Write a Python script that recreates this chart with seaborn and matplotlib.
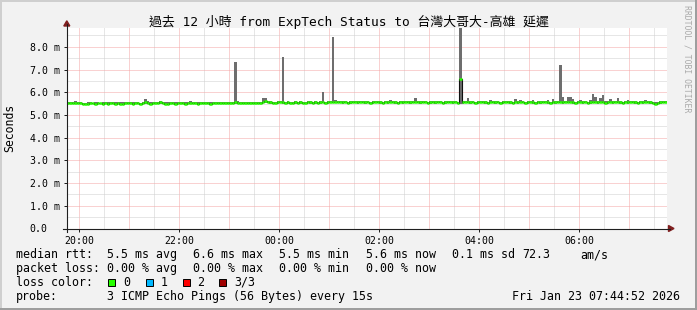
import matplotlib
matplotlib.use("Agg")
import matplotlib.pyplot as plt
import matplotlib.dates as mdates
from matplotlib.patches import Rectangle, Polygon
from matplotlib.lines import Line2D
import pandas as pd
import seaborn as sns

# ---------------- data (3-minute steps, ms) ----------------
med = [
    5.52, 5.53, 5.51, 5.52, 5.54, 5.52, 5.50, 5.48, 5.50, 5.52, 5.51, 5.49, 5.52, 5.51, 5.48, 5.52, 5.50, 5.51, 5.53, 5.50,
    5.51, 5.49, 5.48, 5.52, 5.53, 5.51, 5.50, 5.52, 5.51, 5.50, 5.52, 5.55, 5.53, 5.50, 5.51, 5.52, 5.54, 5.55, 5.52, 5.49,
    5.50, 5.52, 5.51, 5.49, 5.52, 5.53, 5.51, 5.50, 5.52, 5.54, 5.52, 5.51, 5.50, 5.52, 5.51, 5.53, 5.52, 5.50, 5.52, 5.51,
    5.52, 5.51, 5.53, 5.52, 5.51, 5.53, 5.54, 5.55, 5.54, 5.52, 5.53, 5.52, 5.51, 5.52, 5.53, 5.54, 5.52, 5.53, 5.56, 5.60,
    5.57, 5.55, 5.54, 5.53, 5.55, 5.56, 5.55, 5.54, 5.55, 5.53, 5.54, 5.55, 5.54, 5.55, 5.53, 5.54, 5.56, 5.55, 5.54, 5.55,
    5.54, 5.55, 5.56, 5.54, 5.55, 5.57, 5.56, 5.58, 5.56, 5.57, 5.55, 5.56, 5.54, 5.55, 5.57, 5.56, 5.55, 5.57, 5.56, 5.55,
    5.56, 5.54, 5.55, 5.57, 5.56, 5.55, 5.54, 5.56, 5.55, 5.57, 5.56, 5.55, 5.54, 5.56, 5.55, 5.57, 5.56, 5.55, 5.57, 5.58,
    5.56, 5.55, 5.57, 5.56, 5.54, 5.55, 5.56, 5.55, 5.57, 5.56, 5.54, 5.55, 5.56, 5.57, 5.55, 5.56, 5.52, 6.60, 5.55, 5.56,
    5.57, 5.55, 5.56, 5.54, 5.55, 5.57, 5.56, 5.55, 5.54, 5.56, 5.57, 5.55, 5.56, 5.54, 5.55, 5.56, 5.57, 5.55, 5.54, 5.56,
    5.55, 5.57, 5.56, 5.54, 5.55, 5.56, 5.55, 5.54, 5.56, 5.55, 5.57, 5.56, 5.55, 5.54, 5.56, 5.55, 5.57, 5.56, 5.55, 5.57,
    5.58, 5.56, 5.55, 5.54, 5.56, 5.57, 5.55, 5.56, 5.54, 5.55, 5.57, 5.56, 5.55, 5.57, 5.56, 5.54, 5.55, 5.56, 5.55, 5.57,
    5.56, 5.55, 5.54, 5.56, 5.55, 5.57, 5.56, 5.55, 5.54, 5.56, 5.55, 5.57, 5.56, 5.55, 5.52, 5.50, 5.53, 5.55, 5.56, 5.56,
]
hi = [
    5.58, 5.56, 5.55, 5.60, 5.57, 5.55, 5.54, 5.53, 5.56, 5.55, 5.54, 5.56, 5.55, 5.54, 5.55, 5.56, 5.55, 5.57, 5.56, 5.55,
    5.56, 5.55, 5.55, 5.56, 5.58, 5.56, 5.55, 5.56, 5.55, 5.54, 5.58, 5.71, 5.60, 5.56, 5.55, 5.58, 5.59, 5.60, 5.57, 5.56,
    5.55, 5.57, 5.56, 5.55, 5.57, 5.58, 5.56, 5.55, 5.57, 5.60, 5.58, 5.56, 5.55, 5.58, 5.56, 5.57, 5.56, 5.55, 5.57, 5.56,
    5.57, 5.56, 5.58, 5.57, 5.56, 5.58, 5.59, 7.35, 5.60, 5.57, 5.58, 5.57, 5.56, 5.57, 5.58, 5.59, 5.57, 5.58, 5.73, 5.74,
    5.62, 5.60, 5.59, 5.58, 5.60, 5.61, 7.56, 5.59, 5.60, 5.58, 5.59, 5.60, 5.59, 5.60, 5.58, 5.59, 5.61, 5.60, 5.59, 5.60,
    5.59, 5.60, 6.03, 5.59, 5.60, 5.62, 8.44, 5.64, 5.63, 5.61, 5.60, 5.61, 5.59, 5.60, 5.62, 5.61, 5.60, 5.62, 5.61, 5.60,
    5.61, 5.59, 5.60, 5.62, 5.61, 5.60, 5.59, 5.61, 5.60, 5.64, 5.61, 5.60, 5.59, 5.61, 5.60, 5.62, 5.61, 5.60, 5.62, 5.75,
    5.61, 5.60, 5.62, 5.61, 5.59, 5.60, 5.61, 5.60, 5.62, 5.61, 5.59, 5.60, 5.61, 5.62, 5.60, 5.61, 5.58, 8.85, 5.60, 5.61,
    5.75, 5.60, 5.61, 5.59, 5.60, 5.62, 5.61, 5.60, 5.59, 5.64, 5.62, 5.60, 5.61, 5.59, 5.60, 5.61, 5.62, 5.60, 5.59, 5.70,
    5.60, 5.66, 5.61, 5.59, 5.60, 5.61, 5.64, 5.59, 5.61, 5.60, 5.62, 5.61, 5.64, 5.59, 5.68, 5.60, 5.62, 7.18, 5.78, 5.62,
    5.80, 5.79, 5.68, 5.59, 5.61, 5.64, 5.60, 5.61, 5.59, 5.64, 5.93, 5.79, 5.60, 5.74, 5.86, 5.60, 5.61, 5.70, 5.60, 5.62,
    5.76, 5.60, 5.59, 5.61, 5.64, 5.62, 5.61, 5.60, 5.59, 5.61, 5.60, 5.64, 5.61, 5.60, 5.57, 5.55, 5.58, 5.60, 5.61, 5.60,
]
lo = [
    5.47, 5.49, 5.46, 5.48, 5.50, 5.47, 5.45, 5.44, 5.46, 5.48, 5.46, 5.44, 5.47, 5.46, 5.43, 5.47, 5.45, 5.46, 5.48, 5.45,
    5.46, 5.44, 5.43, 5.47, 5.48, 5.46, 5.44, 5.47, 5.46, 5.45, 5.47, 5.50, 5.48, 5.45, 5.46, 5.47, 5.49, 5.50, 5.47, 5.43,
    5.45, 5.47, 5.46, 5.44, 5.47, 5.48, 5.46, 5.44, 5.47, 5.49, 5.47, 5.46, 5.45, 5.47, 5.46, 5.48, 5.47, 5.45, 5.47, 5.46,
    5.47, 5.46, 5.48, 5.47, 5.46, 5.48, 5.49, 5.50, 5.49, 5.47, 5.48, 5.47, 5.46, 5.47, 5.48, 5.49, 5.47, 5.48, 5.51, 5.54,
    5.52, 5.50, 5.49, 5.48, 5.50, 5.51, 5.50, 5.49, 5.50, 5.48, 5.49, 5.50, 5.49, 5.50, 5.48, 5.49, 5.51, 5.50, 5.49, 5.50,
    5.49, 5.50, 5.51, 5.49, 5.50, 5.52, 5.51, 5.53, 5.51, 5.52, 5.50, 5.51, 5.49, 5.50, 5.52, 5.51, 5.50, 5.52, 5.51, 5.50,
    5.51, 5.49, 5.50, 5.52, 5.51, 5.50, 5.49, 5.51, 5.50, 5.52, 5.51, 5.50, 5.49, 5.51, 5.50, 5.52, 5.51, 5.50, 5.52, 5.53,
    5.51, 5.50, 5.52, 5.51, 5.49, 5.50, 5.51, 5.50, 5.52, 5.51, 5.49, 5.50, 5.51, 5.52, 5.50, 5.51, 5.47, 5.50, 5.50, 5.51,
    5.52, 5.50, 5.51, 5.49, 5.50, 5.52, 5.51, 5.50, 5.49, 5.51, 5.52, 5.50, 5.51, 5.49, 5.50, 5.51, 5.52, 5.50, 5.49, 5.51,
    5.50, 5.52, 5.51, 5.49, 5.50, 5.51, 5.50, 5.49, 5.51, 5.50, 5.52, 5.51, 5.50, 5.49, 5.51, 5.50, 5.52, 5.51, 5.50, 5.52,
    5.53, 5.51, 5.50, 5.49, 5.51, 5.52, 5.50, 5.51, 5.49, 5.50, 5.52, 5.51, 5.50, 5.52, 5.51, 5.49, 5.50, 5.51, 5.50, 5.52,
    5.51, 5.50, 5.49, 5.51, 5.50, 5.52, 5.51, 5.50, 5.49, 5.51, 5.50, 5.52, 5.51, 5.50, 5.46, 5.44, 5.48, 5.50, 5.51, 5.51,
]
series_start = "2026-01-22 19:45:00"
view_start = "2026-01-22 19:44:52"
view_end = "2026-01-23 07:44:52"
y_max = 8.85
y_ticks = [0, 1, 2, 3, 4, 5, 6, 7, 8]
y_tick_labels = ["0.0", "1.0 m", "2.0 m", "3.0 m", "4.0 m", "5.0 m", "6.0 m", "7.0 m", "8.0 m"]
x_tick_times = ["2026-01-22 20:00", "2026-01-22 22:00", "2026-01-23 00:00",
                "2026-01-23 02:00", "2026-01-23 04:00", "2026-01-23 06:00"]
x_tick_labels = ["20:00", "22:00", "00:00", "02:00", "04:00", "06:00"]

title = "過去 12 小時 from ExpTech Status to 台灣大哥大-高雄 延遲"
row_rtt = [("median rtt:", 16), ("5.5 ms avg", 107.3), ("6.6 ms max", 193.3), ("5.5 ms min", 279),
           ("5.6 ms now", 366), ("0.1 ms sd", 451.7), ("72.3", 522), ("am/s", 580)]
row_loss = [("packet loss:", 16), ("0.00 % avg", 107.3), ("0.00 % max", 193.3),
            ("0.00 % min", 279), ("0.00 % now", 366)]
loss_labels = ["0", "1", "2", "3/3"]
loss_colors = ["#26ff00", "#00b8ff", "#ff0000", "#a00000"]
probe_text = "3 ICMP Echo Pings (56 Bytes) every 15s"
date_text = "Fri Jan 23 07:44:52 2026"

# ---------------- figure ----------------
plt.rcParams["font.family"] = ["DejaVu Sans Mono", "Noto Sans CJK TC"]
W, H = 697, 310
fig = plt.figure(figsize=(W / 100, H / 100), dpi=100)
fig.patch.set_facecolor("#f2f2f2")


def fx(x):
    return x / W


def fy(y):
    return 1 - y / H


AX_L, AX_R, AX_T, AX_B = 66.5, 666.5, 27.5, 228.5
ax = fig.add_axes([fx(AX_L), fy(AX_B), (AX_R - AX_L) / W, (AX_B - AX_T) / H])
ax.set_facecolor("white")

edges = pd.date_range(series_start, periods=len(med) + 1, freq="3min")
edge_num = mdates.date2num(edges.to_pydatetime())
med_e = med + [med[-1]]
hi_e = hi + [hi[-1]]
lo_e = lo + [lo[-1]]
df = pd.DataFrame({"t": edges, "median": med_e})

# grid
grey = "#cfcfcf"
red = "#f5a5a5"
dot = (0, (1, 1))
hours = pd.date_range("2026-01-22 19:30", "2026-01-23 08:00", freq="30min")
for h in hours:
    if pd.Timestamp(view_start) <= h <= pd.Timestamp(view_end):
        ax.axvline(h, color=red if h.minute == 0 else grey, lw=0.72, ls=dot, zorder=1)
for v in [k * 0.5 for k in range(1, 18)]:
    ax.axhline(v, color=red if v == int(v) else grey, lw=0.72, ls=dot, zorder=1)

# smoke
ax.fill_between(edges, lo_e, hi_e, step="post", color="#6e6e6e", linewidth=0, zorder=2)
# median: dark step connectors underneath, green horizontal segments on top
sns.lineplot(data=df, x="t", y="median", drawstyle="steps-post", color="#111111",
             linewidth=0.8, estimator=None, ax=ax, zorder=3)
ax.hlines(med, edge_num[:-1], edge_num[1:], colors="#26ff00", linewidth=1.8,
          capstyle="butt", zorder=4)

ax.set_xlim(pd.Timestamp(view_start), pd.Timestamp(view_end))
ax.set_ylim(0, y_max)
for s in ax.spines.values():
    s.set_visible(False)

ax.set_yticks(y_ticks)
ax.set_yticklabels(y_tick_labels, fontsize=7.1, ha="left")
ax.tick_params(axis="y", length=2, width=0.72, color="#1f1f1f", pad=24.5)
ax.set_xticks(pd.to_datetime(x_tick_times))
ax.set_xticklabels(x_tick_labels, fontsize=7.1)
ax.tick_params(axis="x", length=2, width=0.72, color="#1f1f1f", pad=3.5)
ax.set_xlabel("")
ax.set_ylabel("")

# axes lines and arrows
fig.add_artist(Line2D([fx(AX_L), fx(AX_L)], [fy(231.5), fy(24)], color="#1f1f1f", lw=0.8))
fig.add_artist(Line2D([fx(63), fx(670)], [fy(AX_B), fy(AX_B)], color="#1f1f1f", lw=0.8))
arrow_c = "#801f1f"
fig.add_artist(Polygon([(fx(63.8), fy(26)), (fx(69.8), fy(26)), (fx(66.8), fy(20.8))],
                       closed=True, color=arrow_c, transform=fig.transFigure))
fig.add_artist(Polygon([(fx(668.5), fy(225.5)), (fx(668.5), fy(231.5)), (fx(674), fy(228.5))],
                       closed=True, color=arrow_c, transform=fig.transFigure))

# texts
fig.text(fx(349), fy(26), title, ha="center", va="baseline", fontsize=9.3, color="black")
fig.text(fx(10), fy(128), "Seconds", rotation=90, ha="center", va="center", fontsize=8.3)
fig.text(fx(687.5), fy(59), "RRDTOOL / TOBI OETIKER", rotation=-90, ha="center", va="center",
         fontsize=5.9, color="#aaaaaa")

FS = 8.4
for txt, x in row_rtt:
    fig.text(fx(x), fy(258.3), txt, ha="left", va="baseline", fontsize=FS)
for txt, x in row_loss:
    fig.text(fx(x), fy(272), txt, ha="left", va="baseline", fontsize=FS)
fig.text(fx(16), fy(285.8), "loss color:", ha="left", va="baseline", fontsize=FS)
sq_x = [108.3, 145.7, 182.7, 219.3]
lb_x = [123.3, 160.7, 197.3, 234]
for lab, col, sx, lx in zip(loss_labels, loss_colors, sq_x, lb_x):
    fig.add_artist(Rectangle((fx(sx), fy(285.8)), 7 / W, 7 / H, facecolor=col,
                             edgecolor="black", lw=0.7, transform=fig.transFigure))
    fig.text(fx(lx), fy(285.8), lab, ha="left", va="baseline", fontsize=FS)
fig.text(fx(16), fy(299.6), "probe:", ha="left", va="baseline", fontsize=FS)
fig.text(fx(107.3), fy(299.6), probe_text, ha="left", va="baseline", fontsize=FS)
fig.text(fx(680), fy(299.6), date_text, ha="right", va="baseline", fontsize=FS)

# frame
fig.add_artist(Rectangle((0, fy(2)), 1, 2 / H, facecolor="#cfcfcf", lw=0, transform=fig.transFigure))
fig.add_artist(Rectangle((0, 0), 2 / W, 1, facecolor="#cfcfcf", lw=0, transform=fig.transFigure))
fig.add_artist(Rectangle((0, 0), 1, 2 / H, facecolor="#9e9e9e", lw=0, transform=fig.transFigure))
fig.add_artist(Rectangle((fx(695), 0), 2 / W, 1, facecolor="#9e9e9e", lw=0, transform=fig.transFigure))

fig.savefig("out.png", dpi=100, facecolor=fig.get_facecolor())
